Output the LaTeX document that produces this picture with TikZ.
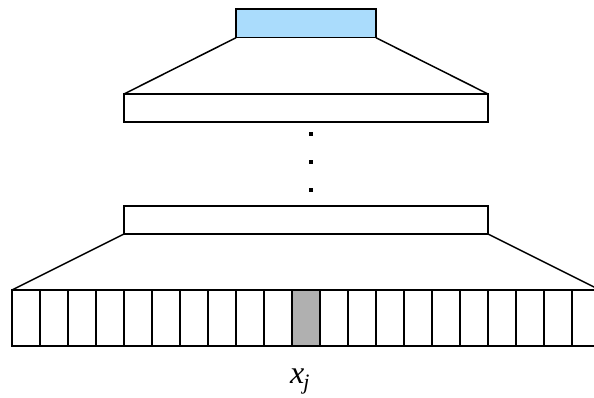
\documentclass[tikz,border=0pt]{standalone}
\usepackage{fontspec}
\setmainfont{Liberation Serif}
\newfontfamily\labelfont{Liberation Serif}[ItalicFont={Liberation Serif Italic}]
\definecolor{topblue}{RGB}{170,220,252}
\definecolor{cellgray}{RGB}{176,176,176}
\begin{document}
\begin{tikzpicture}[x=1pt,y=-1pt,
  edge/.style={draw=black,line width=1.5pt},
  boxnode/.style={edge,inner sep=0pt,outer sep=0pt,minimum width=364pt,minimum height=28pt},
  cellnode/.style={edge,inner sep=0pt,outer sep=0pt,minimum width=28pt,minimum height=56pt},
  dotnode/.style={rectangle,fill=black,inner sep=0pt,minimum size=4pt},
  lbl/.style={inner sep=0pt,font=\labelfont\fontsize{32}{35}\selectfont\itshape}]
\useasboundingbox (0,0) rectangle (594,398);
\clip (0,0) rectangle (594,398);
\node[edge,fill=topblue,inner sep=0pt,outer sep=0pt,minimum width=140pt,minimum height=28.5pt] (top) at (306,23.5) {};
\node[boxnode] (upper) at (306,108) {};
\node[boxnode] (lower) at (306,220) {};
\foreach \i in {0,...,20}{
  \node[cellnode] (c\i) at ({26+28*\i},318) {};
}
\node[cellnode,fill=cellgray] (c10) at (306,318) {};
\draw[edge] (top.south west) -- (upper.north west);
\draw[edge] (top.south east) -- (upper.north east);
\draw[edge] (lower.south west) -- (c0.north west);
\draw[edge] (lower.south east) -- (c20.north east);
\node[dotnode] (d1) at (310.7,134) {};
\node[dotnode] (d2) at (310.7,162.3) {};
\node[dotnode] (d3) at (310.7,190.3) {};
\node[lbl,anchor=base west] (xj) at (290,383.5) {x\kern-1pt\raisebox{-6pt}{\fontsize{22}{24}\selectfont j}};
\end{tikzpicture}
\end{document}
